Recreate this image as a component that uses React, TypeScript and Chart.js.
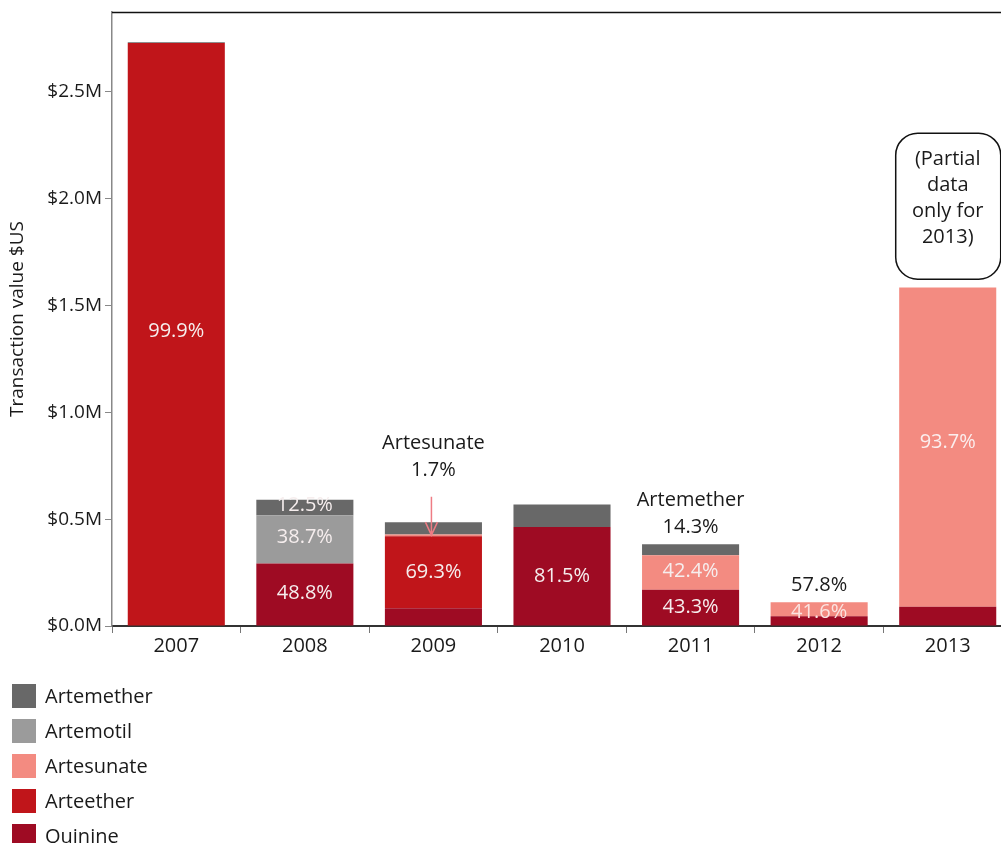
import React, { useEffect, useRef } from 'react';
import { Chart, registerables } from 'chart.js';

Chart.register(...registerables);

const FONT = '"Open Sans", "DejaVu Sans", sans-serif';

// Categories (years)
const years = ['2007', '2008', '2009', '2010', '2011', '2012', '2013'];

// Transaction values in $US millions, per compound (stack order bottom -> top)
const quinine = [0, 0.292, 0.083, 0.463, 0.170, 0.046, 0.090];
const arteether = [2.728, 0, 0.337, 0, 0, 0, 0];
const artesunate = [0, 0, 0.008, 0, 0.161, 0.065, 1.494];
const artemotil = [0, 0.226, 0, 0, 0, 0, 0];
const artemether = [0.003, 0.073, 0.058, 0.105, 0.052, 0, 0];

const seriesNames = ['Quinine', 'Arteether', 'Artesunate', 'Artemotil', 'Artemether'];
const seriesValues = [quinine, arteether, artesunate, artemotil, artemether];
const seriesColors = ['#9e0b23', '#c0151a', '#f38b81', '#9b9b9b', '#686868'];

// Y axis
const yMax = 2.873;
const yStep = 0.5;

// Percentage labels: category index, y position (in $M), text, colour
const barLabels = [
  { i: 0, y: 1.352, text: '99.9%', color: '#f6eeee' },
  { i: 1, y: 0.537, text: '12.5%', color: '#f6eeee' },
  { i: 1, y: 0.387, text: '38.7%', color: '#f6eeee' },
  { i: 1, y: 0.125, text: '48.8%', color: '#f6eeee' },
  { i: 2, y: 0.223, text: '69.3%', color: '#f6eeee' },
  { i: 3, y: 0.205, text: '81.5%', color: '#f6eeee' },
  { i: 4, y: 0.228, text: '42.4%', color: '#f6eeee' },
  { i: 4, y: 0.059, text: '43.3%', color: '#f6eeee' },
  { i: 5, y: 0.036, text: '41.6%', color: '#fbe3e0' },
  { i: 6, y: 0.832, text: '93.7%', color: '#fbeeee' },
  { i: 2, y: 0.827, text: 'Artesunate', color: '#1a1a1a' },
  { i: 2, y: 0.701, text: '1.7%', color: '#1a1a1a' },
  { i: 4, y: 0.560, text: 'Artemether', color: '#1a1a1a' },
  { i: 4, y: 0.434, text: '14.3%', color: '#1a1a1a' },
  { i: 5, y: 0.162, text: '57.8%', color: '#1a1a1a' },
];

// Arrow pointing at the 2009 Artesunate sliver (category, from y, to y in $M)
const arrow = { i: 2, from: 0.605, to: 0.425 };

// Callout for 2013
const callout = { i: 6, top: 2.306, bottom: 1.623 };
const calloutLines = ['(Partial', 'data', 'only for', '2013)'];

const overlayPlugin = {
  id: 'overlay',
  afterDatasetsDraw(chart: any) {
    const { ctx, chartArea, scales } = chart;
    const x = scales.x;
    const y = scales.y;
    ctx.save();

    // top frame line
    ctx.strokeStyle = '#111';
    ctx.lineWidth = 1.5;
    ctx.beginPath();
    ctx.moveTo(chartArea.left, chartArea.top + 0.5);
    ctx.lineTo(chartArea.right, chartArea.top + 0.5);
    ctx.stroke();

    // labels
    ctx.font = `20px ${FONT}`;
    ctx.textAlign = 'center';
    ctx.textBaseline = 'alphabetic';
    for (const l of barLabels) {
      ctx.fillStyle = l.color;
      ctx.fillText(l.text, x.getPixelForValue(l.i), y.getPixelForValue(l.y));
    }

    // arrow
    const ax = x.getPixelForValue(arrow.i) - 2;
    const ay1 = y.getPixelForValue(arrow.from);
    const ay2 = y.getPixelForValue(arrow.to);
    ctx.strokeStyle = '#ee7c84';
    ctx.lineWidth = 1.5;
    ctx.beginPath();
    ctx.moveTo(ax, ay1);
    ctx.lineTo(ax, ay2);
    ctx.moveTo(ax - 6, ay2 - 13);
    ctx.lineTo(ax, ay2);
    ctx.lineTo(ax + 6, ay2 - 13);
    ctx.stroke();

    // callout
    const cx = x.getPixelForValue(callout.i);
    const top = y.getPixelForValue(callout.top);
    const bottom = y.getPixelForValue(callout.bottom);
    const left = cx - 52;
    const w = 105;
    const h = bottom - top;
    const r = 22;
    ctx.strokeStyle = '#111';
    ctx.lineWidth = 1.5;
    ctx.fillStyle = '#ffffff';
    ctx.beginPath();
    ctx.moveTo(left + r, top);
    ctx.lineTo(left + w - r, top);
    ctx.arcTo(left + w, top, left + w, top + r, r);
    ctx.lineTo(left + w, top + h - r);
    ctx.arcTo(left + w, top + h, left + w - r, top + h, r);
    ctx.lineTo(left + r, top + h);
    ctx.arcTo(left, top + h, left, top + h - r, r);
    ctx.lineTo(left, top + r);
    ctx.arcTo(left, top, left + r, top, r);
    ctx.closePath();
    ctx.fill();
    ctx.stroke();
    ctx.fillStyle = '#1a1a1a';
    ctx.font = `20px ${FONT}`;
    calloutLines.forEach((t, k) => {
      ctx.fillText(t, cx, top + 32 + k * 26);
    });

    // legend (top of stack first)
    ctx.textAlign = 'left';
    ctx.font = `20px ${FONT}`;
    const ds = chart.data.datasets;
    for (let k = 0; k < ds.length; k++) {
      const d = ds[ds.length - 1 - k];
      const rowTop = 684 + k * 35;
      ctx.fillStyle = d.backgroundColor;
      ctx.fillRect(12, rowTop, 24, 24);
      ctx.fillStyle = '#1a1a1a';
      ctx.fillText(d.label, 45, rowTop + 19);
    }

    ctx.restore();
  },
};

export default function App() {
  const ref = useRef<HTMLCanvasElement>(null);

  useEffect(() => {
    if (!ref.current) return;
    const datasets = seriesNames.map((name, k) => ({
      label: name,
      data: seriesValues[k],
      backgroundColor: seriesColors[k],
      borderWidth: 0,
      categoryPercentage: 1,
      barPercentage: 0.755,
    }));
    const chart = new Chart(ref.current, {
      type: 'bar',
      data: { labels: years, datasets },
      options: {
        responsive: false,
        animation: false,
        layout: { padding: { top: 12, left: 0, right: 0, bottom: 0 } },
        plugins: {
          legend: { display: false },
          tooltip: { enabled: false },
        },
        scales: {
          x: {
            stacked: true,
            offset: true,
            grid: {
              offset: true,
              drawOnChartArea: false,
              drawTicks: true,
              tickLength: 7,
              color: '#777',
            },
            border: { display: true, color: '#333', width: 2 },
            ticks: {
              color: '#1a1a1a',
              font: { family: FONT, size: 20 },
              padding: 1,
              maxRotation: 0,
            },
            afterFit: (s: any) => {
              s.height = 217;
              s.paddingLeft = 0;
              s.paddingRight = 0;
            },
          },
          y: {
            stacked: true,
            min: 0,
            max: yMax,
            ticks: {
              stepSize: yStep,
              includeBounds: false,
              color: '#1a1a1a',
              font: { family: FONT, size: 19 },
              padding: 3,
              callback: (v: any) => '$' + Number(v).toFixed(1) + 'M',
            },
            afterBuildTicks: (s: any) => {
              s.ticks = s.ticks.filter((t: any) => Math.abs(t.value / yStep - Math.round(t.value / yStep)) < 1e-6);
            },
            grid: {
              drawOnChartArea: false,
              drawTicks: true,
              tickLength: 7,
              color: '#888',
            },
            border: { display: true, color: '#888', width: 1.5 },
            title: {
              display: true,
              text: 'Transaction value $US',
              color: '#1a1a1a',
              font: { family: FONT, size: 19 },
              padding: { top: 6, bottom: 0 },
            },
            afterFit: (s: any) => {
              s.width = 112;
              s.paddingTop = 0;
              s.paddingBottom = 0;
            },
          },
        },
      },
      plugins: [overlayPlugin],
    });
    return () => chart.destroy();
  }, []);

  return (
    <div
      style={{
        position: 'fixed',
        left: 0,
        top: 0,
        width: 1001,
        height: 843,
        overflow: 'hidden',
        background: '#ffffff',
      }}
    >
      <canvas ref={ref} width={1012} height={843} style={{ display: 'block', width: 1012, height: 843 }} />
    </div>
  );
}
